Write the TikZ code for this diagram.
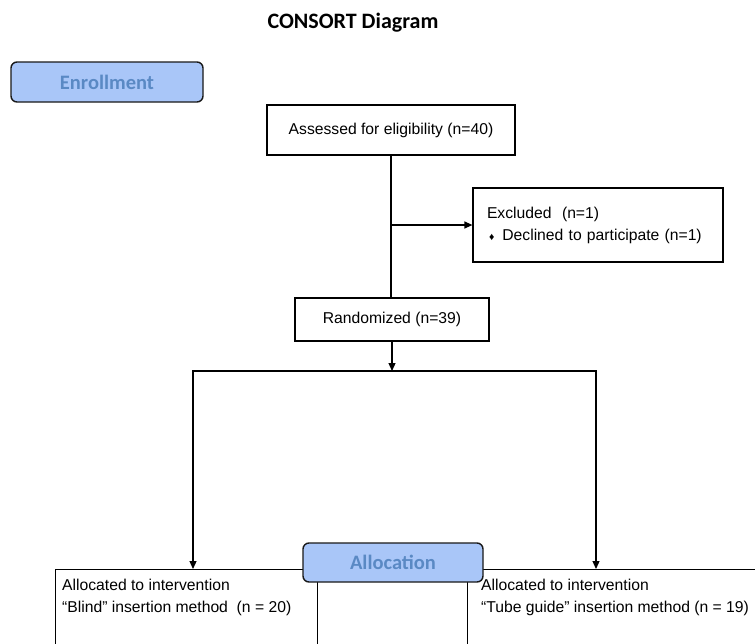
\documentclass[tikz,border=0pt]{standalone}
\usepackage{fontspec}
\setmainfont{Liberation Sans}
\newfontfamily\phasefont{Carlito}
\usetikzlibrary{arrows.meta,positioning}
\definecolor{PhaseFill}{HTML}{A9C6F8}
\definecolor{PhaseText}{HTML}{5A89C4}

\begin{document}
\begin{tikzpicture}[x=1pt, y=-1pt, every node/.style={font=\fontsize{15.7}{22}\selectfont}, box/.style={draw=black, line width=1.2pt, fill=white, align=center}, phase/.style={rounded corners=6pt, draw=black!90, line width=1.4pt, fill=PhaseFill, text=PhaseText, font=\phasefont\bfseries\fontsize{20.5}{24}\selectfont}, armtext/.style={anchor=north west, inner sep=0pt, align=left}, line/.style={line width=1.2pt}, arrow/.style={-{Triangle[length=8pt,width=7pt]}, line width=1.2pt}]
\useasboundingbox (0,0) rectangle (755,643);
\clip (0,0) rectangle (755,643);
\node[font=\phasefont\bfseries\fontsize{22}{26}\selectfont] (title) at (353,23) {CONSORT Diagram};
\node[phase, minimum width=192pt, minimum height=40pt] (enrol) at (107,82) {Enrollment};
\node[box, minimum width=248pt, minimum height=50pt] (assess) at (391,130) {Assessed for eligibility (n=40)};
\node[box, minimum width=250pt, minimum height=74pt, text width=222pt, align=left, inner xsep=14pt] (excl) at (598,225) {Excluded\ \ (n=1)\\ \hspace*{2pt}{\fontsize{10.5}{10}\selectfont ♦}\hspace{8pt}Declined to participate (n=1)};
\node[box, minimum width=194pt, minimum height=43pt] (rand) at (392,319.5) {Randomized (n=39)};
\coordinate (split) at (392,371);
\coordinate (splitA) at (193,371);
\coordinate (splitB) at (596,371);
\node[box, anchor=north west, minimum width=262pt, minimum height=100pt] (armA) at (55,569) {};
\node[box, anchor=north west, minimum width=320pt, minimum height=100pt] (armB) at (467,569) {};
\node[armtext] (armAtxt) at (62,579) {Allocated to intervention\\“Blind” insertion method\ \ (n = 20)};
\node[armtext] (armBtxt) at (481,579) {Allocated to intervention\\“Tube guide” insertion method (n = 19)};
\node[phase, minimum width=180pt, minimum height=39pt] (alloc) at (393,562.5) {Allocation};
\draw[line] (assess.south) -- (assess.south |- rand.north);
\draw[arrow] (assess.south |- excl.west) -- (excl.west);
\draw[arrow] (rand.south) -- (split);
\draw[arrow] (split) -- (splitA) -- (splitA |- armA.north);
\draw[arrow] (split) -- (splitB) -- (splitB |- armB.north);
\end{tikzpicture}
\end{document}
